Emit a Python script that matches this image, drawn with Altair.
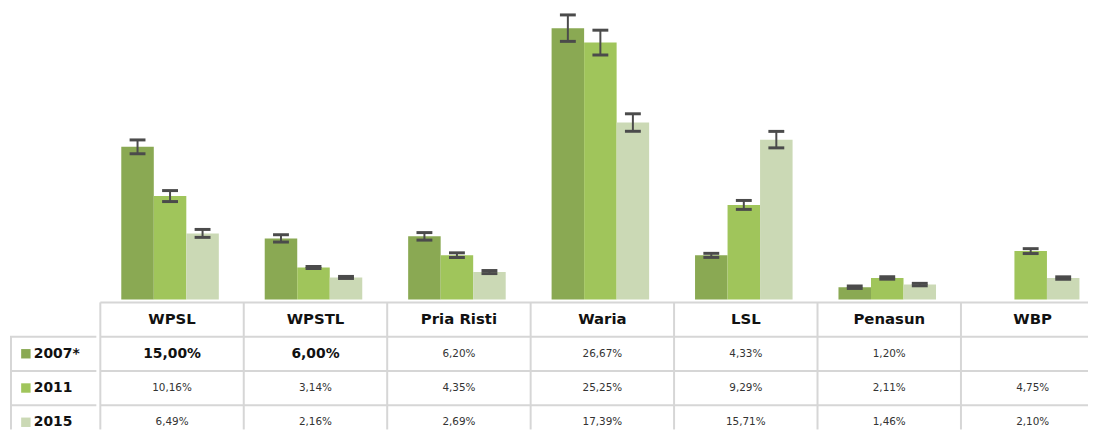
import altair as alt
import pandas as pd

categories = ["WPSL", "WPSTL", "Pria Risti", "Waria", "LSL", "Penasun", "WBP"]
years = ["2007*", "2011", "2015"]
values_2007 = [15.00, 6.00, 6.20, 26.67, 4.33, 1.20, None]
values_2011 = [10.16, 3.14, 4.35, 25.25, 9.29, 2.11, 4.75]
values_2015 = [6.49, 2.16, 2.69, 17.39, 15.71, 1.46, 2.10]
err_2007 = [0.68, 0.36, 0.37, 1.30, 0.20, 0.12, None]
err_2011 = [0.54, 0.10, 0.23, 1.22, 0.44, 0.12, 0.24]
err_2015 = [0.39, 0.10, 0.15, 0.86, 0.81, 0.12, 0.12]
bold_cells_2007 = ["WPSL", "WPSTL"]
colors = ["#8aa953", "#a0c55b", "#cbd9b5"]
table_rows = ["header"] + years

GRID = "#d6d6d6"
ERR = "#4b4b4b"

# layout (pixels)
LABEL_W = 87
DATA_W = 995         # visible width of the data part
DATA_RANGE = 1011.5  # band range (last column runs off the page like the original)
BAR_H = 291
TABLE_H = 128
TABLE_RANGE = 138

records = []
for year, vals, errs in zip(years, [values_2007, values_2011, values_2015],
                            [err_2007, err_2011, err_2015]):
    for cat, v, e in zip(categories, vals, errs):
        if v is None:
            continue
        records.append({
            "cat": cat, "year": year, "row": year, "value": v,
            "lo": v - e, "hi": v + e,
            "label": f"{v:.2f}".replace(".", ",") + "%",
            "bold": (year == "2007*" and cat in bold_cells_2007),
        })
df = pd.DataFrame(records)

# ---------- bar chart ----------
y_scale = alt.Scale(domain=[0, 28.4], nice=False)
x_bar = alt.X("cat:N", sort=categories, axis=None,
              scale=alt.Scale(domain=categories, paddingInner=0.32, paddingOuter=0.16,
                              range=[0, DATA_RANGE]))
x_off = alt.XOffset("year:N", sort=years,
                    scale=alt.Scale(domain=years, paddingInner=0, paddingOuter=0))
color = alt.Color("year:N", scale=alt.Scale(domain=years, range=colors), legend=None)

bars = alt.Chart(df).mark_bar().encode(
    x=x_bar, xOffset=x_off,
    y=alt.Y("value:Q", scale=y_scale, axis=None),
    color=color,
)
err_rule = alt.Chart(df).mark_rule(color=ERR, strokeWidth=2).encode(
    x=x_bar, xOffset=x_off,
    y=alt.Y("lo:Q", scale=y_scale, axis=None), y2="hi:Q",
)
caps = alt.Chart(df).transform_fold(["lo", "hi"], as_=["end", "pos"]).mark_tick(
    color=ERR, size=16, thickness=3, opacity=1
).encode(
    x=x_bar, xOffset=x_off,
    y=alt.Y("pos:Q", scale=y_scale, axis=None),
)
bar_chart = alt.layer(bars, err_rule, caps).properties(width=DATA_W, height=BAR_H)

# invisible spacer above the row-label column
spacer = alt.Chart(pd.DataFrame({"v": [0]})).mark_point(opacity=0).encode(
    x=alt.value(40), y=alt.value(100)
).properties(width=LABEL_W, height=BAR_H)

# ---------- table ----------
cols_df = pd.DataFrame({"cat": categories})
rows_df = pd.DataFrame({"row": table_rows})
year_rows_df = pd.DataFrame({"row": years})
header_df = pd.DataFrame({"cat": categories, "row": ["header"] * len(categories)})

x_tbl_scale = alt.Scale(domain=categories, paddingInner=0, paddingOuter=0,
                        range=[0, DATA_RANGE])
y_tbl_scale = alt.Scale(domain=table_rows, paddingInner=0, paddingOuter=0,
                        range=[0, TABLE_RANGE])
x_tbl = alt.X("cat:N", sort=categories, scale=x_tbl_scale, axis=None)
y_tbl = alt.Y("row:N", sort=table_rows, scale=y_tbl_scale, axis=None)

v_lines = alt.Chart(cols_df).mark_rule(color=GRID, strokeWidth=2).encode(
    x=alt.X("cat:N", sort=categories, scale=x_tbl_scale, axis=None, bandPosition=0)
)
h_lines = alt.Chart(rows_df).mark_rule(color=GRID, strokeWidth=2).encode(
    y=alt.Y("row:N", sort=table_rows, scale=y_tbl_scale, axis=None, bandPosition=0)
)
header_text = alt.Chart(header_df).mark_text(
    font="DejaVu Sans", fontWeight="bold", fontSize=15, color="#111111"
).encode(x=x_tbl, y=y_tbl, text="cat:N")
cell_text = alt.Chart(df).transform_filter("!datum.bold").mark_text(
    font="DejaVu Sans", fontSize=10.5, color="#333333"
).encode(x=x_tbl, y=y_tbl, text="label:N")
cell_bold = alt.Chart(df).transform_filter("datum.bold").mark_text(
    font="DejaVu Sans", fontWeight="bold", fontSize=14, color="#111111"
).encode(x=x_tbl, y=y_tbl, text="label:N")
table_chart = alt.layer(v_lines, h_lines, header_text, cell_text, cell_bold).properties(
    width=DATA_W, height=TABLE_H
)

lbl_h_lines = alt.Chart(year_rows_df).mark_rule(color=GRID, strokeWidth=2).encode(
    y=alt.Y("row:N", sort=table_rows, scale=y_tbl_scale, axis=None, bandPosition=0)
)
lbl_v_line = alt.Chart(pd.DataFrame({"row": [years[0]]})).mark_rule(
    color=GRID, strokeWidth=2
).encode(
    x=alt.value(1),
    y=alt.Y("row:N", sort=table_rows, scale=y_tbl_scale, axis=None, bandPosition=0),
    y2=alt.value(TABLE_H),
)
squares = alt.Chart(year_rows_df).mark_square(size=90, opacity=1).encode(
    x=alt.value(16), y=y_tbl,
    color=alt.Color("row:N", scale=alt.Scale(domain=years, range=colors), legend=None),
)
row_labels = alt.Chart(year_rows_df).mark_text(
    font="DejaVu Sans", fontWeight="bold", fontSize=14, color="#111111", align="left"
).encode(x=alt.value(24), y=y_tbl, text="row:N")
label_chart = alt.layer(lbl_h_lines, lbl_v_line, squares, row_labels).properties(
    width=LABEL_W, height=TABLE_H
)

top = alt.hconcat(spacer, bar_chart, spacing=0).resolve_scale(
    x="independent", y="independent", color="independent")
bottom = alt.hconcat(label_chart, table_chart, spacing=0).resolve_scale(
    x="independent", y="independent", color="independent")
chart = alt.vconcat(top, bottom, spacing=0).resolve_scale(
    x="independent", y="independent", color="independent"
).configure_view(stroke="transparent").properties(padding=0, background="white")

chart.save("out.html", embed_options={"renderer": "svg", "actions": False})
